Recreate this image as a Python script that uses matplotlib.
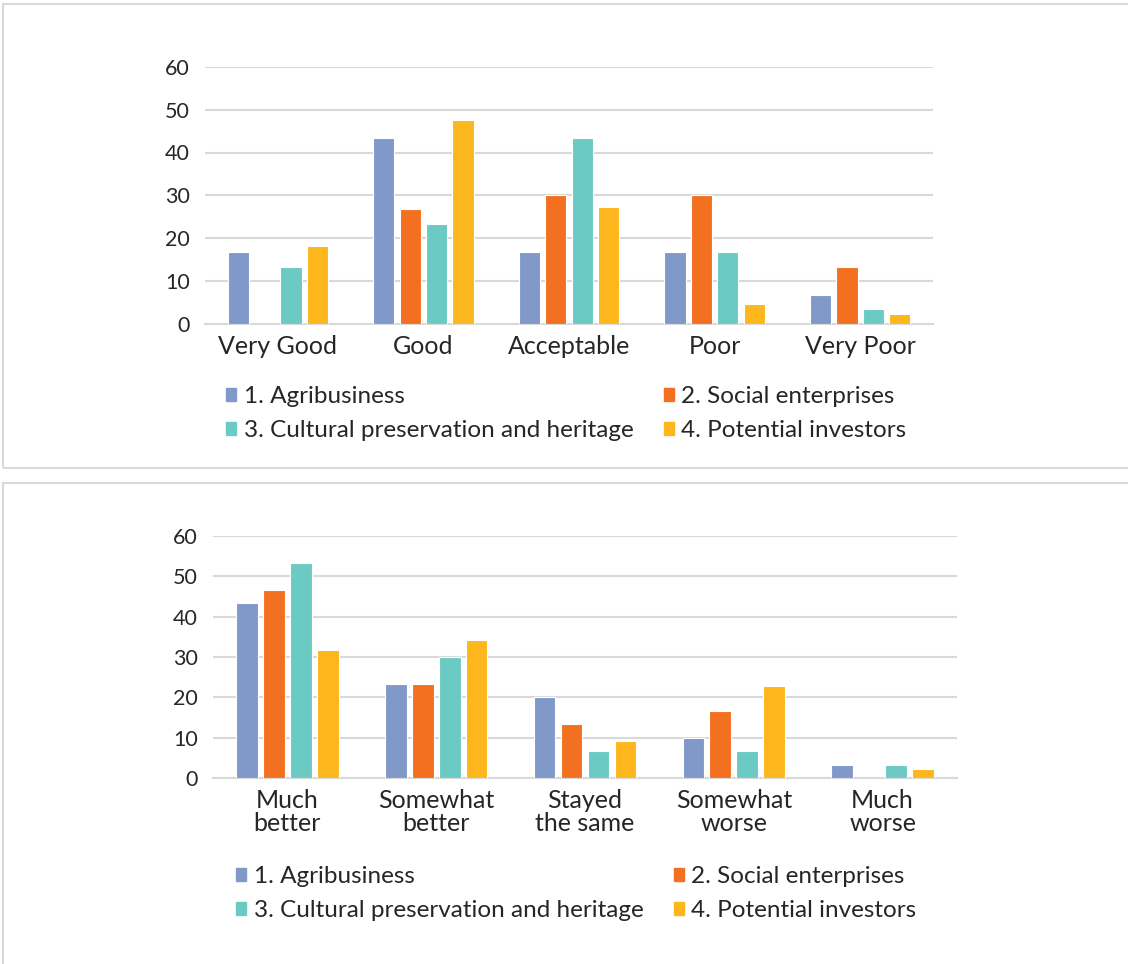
import matplotlib
matplotlib.use('Agg')
import matplotlib.pyplot as plt
from matplotlib.patches import Patch, Rectangle
import numpy as np

plt.rcParams['font.family'] = ['Lato', 'DejaVu Sans']
plt.rcParams['text.color'] = '#262626'

series = ['1. Agribusiness', '2. Social enterprises',
          '3. Cultural preservation and heritage', '4. Potential investors']
colors = ['#8099C9', '#F37021', '#6CCAC4', '#FDB71C']

# top chart: rating
cats_top = ['Very Good', 'Good', 'Acceptable', 'Poor', 'Very Poor']
agri_top = [16.7, 43.3, 16.7, 16.7, 6.7]
social_top = [0, 26.7, 30.0, 30.0, 13.3]
cultural_top = [13.3, 23.3, 43.3, 16.7, 3.3]
investors_top = [18.2, 47.7, 27.3, 4.5, 2.3]

# bottom chart: change
cats_bot = ['Much\nbetter', 'Somewhat\nbetter', 'Stayed\nthe same', 'Somewhat\nworse', 'Much\nworse']
agri_bot = [43.3, 23.3, 20.0, 10.0, 3.3]
social_bot = [46.7, 23.3, 13.3, 16.7, 0]
cultural_bot = [53.3, 30.0, 6.7, 6.7, 3.3]
investors_bot = [31.8, 34.1, 9.1, 22.7, 2.3]

W, H = 1128, 964
fig = plt.figure(figsize=(W / 100, H / 100), dpi=100)


def px(left, top, right, bottom):
    return [left / W, (H - bottom) / H, (right - left) / W, (bottom - top) / H]


# panel frames
for (y0, y1) in [(4, 468), (483, 975)]:
    fig.patches.append(Rectangle((3 / W, 1 - y1 / H), 1.0, (y1 - y0) / H,
                                 transform=fig.transFigure, fill=False,
                                 edgecolor='#D9D9D9', linewidth=1.5))


def draw(rect, cats, data, legend_xy):
    ax = fig.add_axes(rect)
    x = np.arange(len(cats))
    step = 0.181
    width = 0.146
    for i, vals in enumerate(data):
        ax.bar(x + (i - 1.5) * step, vals, width, color=colors[i],
               edgecolor='white', linewidth=0.8, zorder=3)
    ax.set_xlim(-0.5, len(cats) - 0.5)
    ax.set_ylim(0, 60)
    ax.set_yticks(range(0, 61, 10))
    ax.yaxis.grid(True, color='#D9D9D9', linewidth=1.5, zorder=0)
    for s in ['top', 'right', 'left']:
        ax.spines[s].set_visible(False)
    ax.spines['bottom'].set_color('#D9D9D9')
    ax.spines['bottom'].set_linewidth(1.5)
    ax.tick_params(length=0, labelsize=15.5, colors='#262626', pad=11)
    ax.tick_params(axis='x', labelsize=18, pad=8)
    ax.set_xticks(x)
    ax.set_xticklabels(cats, linespacing=1.0)
    handles = [Patch(color=c) for c in colors]
    order = [0, 2, 1, 3]
    fig.legend([handles[i] for i in order], [series[i] for i in order],
               loc='upper left', bbox_to_anchor=legend_xy, ncol=2,
               frameon=False, fontsize=17.5, handlelength=0.42, handleheight=0.42,
               handletextpad=0.3, columnspacing=1.25, labelspacing=0.55,
               borderaxespad=0, borderpad=0)
    return ax


draw(px(205, 67, 933, 323.5), cats_top,
     [agri_top, social_top, cultural_top, investors_top], (226 / W, 1 - 386 / H))
draw(px(213, 536, 957, 778), cats_bot,
     [agri_bot, social_bot, cultural_bot, investors_bot], (236 / W, 1 - 866 / H))

fig.savefig('out.png', dpi=100, facecolor='white')
